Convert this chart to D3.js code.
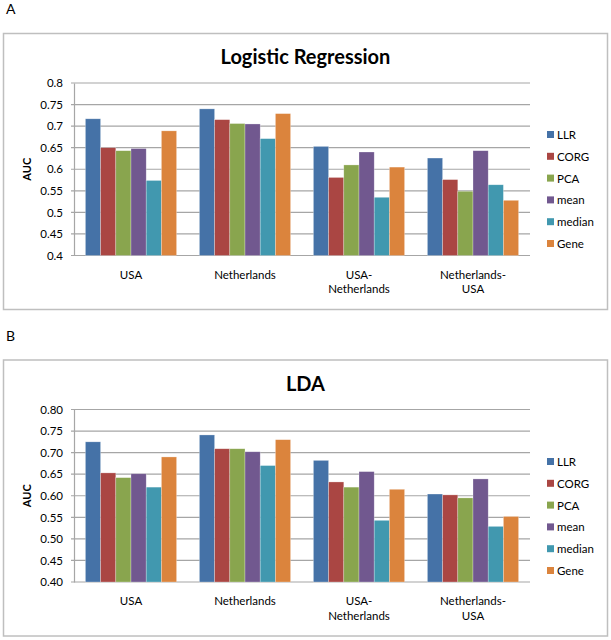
<!DOCTYPE html>
<html>
<head>
<meta charset="utf-8">
<script src="https://cdn.jsdelivr.net/npm/d3@7"></script>
<style>
  body { margin: 0; background: #fff; }
  svg { display: block; }
  text { font-family: Lato, "Open Sans", sans-serif; fill: #000; }
</style>
</head>
<body>
<svg id="chart" width="611" height="640"></svg>
<script>
const categories = ["USA", "Netherlands", "USA-Netherlands", "Netherlands-USA"];
const categoryLines = [["USA"], ["Netherlands"], ["USA-", "Netherlands"], ["Netherlands-", "USA"]];
const methods = ["LLR", "CORG", "PCA", "mean", "median", "Gene"];
const colors = ["#4572A7", "#AA4643", "#89A54E", "#71588F", "#4198AF", "#DB843D"];

// Logistic Regression AUC, per method, over categories
const lrLLR    = [0.717, 0.740, 0.653, 0.626];
const lrCORG   = [0.650, 0.715, 0.581, 0.576];
const lrPCA    = [0.643, 0.706, 0.610, 0.549];
const lrMean   = [0.648, 0.705, 0.640, 0.643];
const lrMedian = [0.574, 0.671, 0.535, 0.564];
const lrGene   = [0.689, 0.729, 0.605, 0.528];

// LDA AUC
const ldaLLR    = [0.725, 0.741, 0.682, 0.604];
const ldaCORG   = [0.653, 0.709, 0.632, 0.602];
const ldaPCA    = [0.642, 0.709, 0.620, 0.595];
const ldaMean   = [0.651, 0.702, 0.656, 0.639];
const ldaMedian = [0.620, 0.670, 0.543, 0.529];
const ldaGene   = [0.690, 0.730, 0.615, 0.552];

const yTicks = [0.4, 0.45, 0.5, 0.55, 0.6, 0.65, 0.7, 0.75, 0.8];

const svg = d3.select("#chart");

function drawPanel(opts) {
  const { label, title, series, top, fmt } = opts;
  const g = svg.append("g").attr("transform", `translate(0,${top})`);

  // panel letter
  svg.append("text").attr("x", 6).attr("y", top - 19).attr("font-size", 14).text(label);

  // frame
  g.append("rect").attr("x", 3.5).attr("y", 0.5).attr("width", 604).attr("height", 276)
    .attr("fill", "#fff").attr("stroke", "#BFBFBF").attr("stroke-width", 1.5);

  g.append("text").attr("x", 305.5).attr("y", 31).attr("text-anchor", "middle")
    .attr("font-size", 20).attr("font-weight", "bold").text(title);

  const plotTop = 50, plotBottom = 222.5;
  const x0 = d3.scaleBand().domain(categories).range([74, 530]).paddingInner(0).paddingOuter(0);
  const x1 = d3.scaleBand().domain(methods).range([0, x0.bandwidth()]).paddingOuter(0.75 / 7.5 * 7.5 / 7.5 * 1.0).paddingInner(0);
  // gap width 150%: bars span 6/7.5 of the band
  const inner = x0.bandwidth() * 6 / 7.5;
  const off = (x0.bandwidth() - inner) / 2;
  x1.range([off, off + inner]).padding(0);

  const y = d3.scaleLinear().domain([0.4, 0.8]).range([plotBottom, plotTop]);

  // gridlines
  g.append("g").selectAll("line").data(yTicks).join("line")
    .attr("x1", 71).attr("x2", 530)
    .attr("y1", d => y(d)).attr("y2", d => y(d))
    .attr("stroke", "#A6A6A6").attr("stroke-width", 1.2);

  // y axis
  const yAxis = d3.axisLeft(y).tickValues(yTicks).tickFormat(fmt).tickSize(0).tickPadding(11);
  const ya = g.append("g").attr("transform", "translate(74,0)").call(yAxis);
  ya.select(".domain").attr("stroke", "#A6A6A6").attr("stroke-width", 1.2);
  ya.selectAll("text").attr("font-size", 11.5).attr("font-family", "Lato, sans-serif").attr("fill", "#000");

  // y title
  g.append("text").attr("transform", `translate(27,${(plotTop + plotBottom) / 2}) rotate(-90)`)
    .attr("text-anchor", "middle").attr("dy", "0.35em")
    .attr("font-size", 11).attr("font-weight", "bold").text("AUC");

  // bars
  const cg = g.append("g").selectAll("g").data(categories).join("g")
    .attr("transform", d => `translate(${x0(d)},0)`);
  cg.selectAll("rect").data((c, ci) => methods.map((m, mi) => ({ m, mi, v: series[mi][ci] }))).join("rect")
    .attr("x", d => x1(d.m)).attr("width", x1.bandwidth())
    .attr("y", d => y(d.v)).attr("height", d => y(0.4) - y(d.v))
    .attr("fill", d => colors[d.mi])
    .attr("stroke", "rgba(255,255,255,0.45)").attr("stroke-width", 0.6);

  // x labels
  const xl = g.append("g").selectAll("text").data(categories).join("text")
    .attr("x", d => x0(d) + x0.bandwidth() / 2).attr("y", plotBottom + 23)
    .attr("text-anchor", "middle").attr("font-size", 11.5);
  xl.selectAll("tspan").data((d, i) => categoryLines[i]).join("tspan")
    .attr("x", function () { return d3.select(this.parentNode).attr("x"); })
    .attr("dy", (d, i) => i === 0 ? 0 : 14.5).text(d => d);

  // legend
  const lg = g.append("g").selectAll("g").data(methods).join("g")
    .attr("transform", (d, i) => `translate(547,${opts.legendTop + i * 21.8})`);
  lg.append("rect").attr("x", 0).attr("y", -4).attr("width", 7).attr("height", 7)
    .attr("fill", (d, i) => colors[i]);
  lg.append("text").attr("x", 10).attr("y", 0).attr("dy", "0.35em").attr("font-size", 11.5).text(d => d);
}

drawPanel({
  label: "A", title: "Logistic Regression", top: 33,
  series: [lrLLR, lrCORG, lrPCA, lrMean, lrMedian, lrGene],
  fmt: d3.format("~g"), legendTop: 102
});
drawPanel({
  label: "B", title: "LDA", top: 359.5,
  series: [ldaLLR, ldaCORG, ldaPCA, ldaMean, ldaMedian, ldaGene],
  fmt: d3.format(".2f"), legendTop: 102.5
});
</script>
</body>
</html>
